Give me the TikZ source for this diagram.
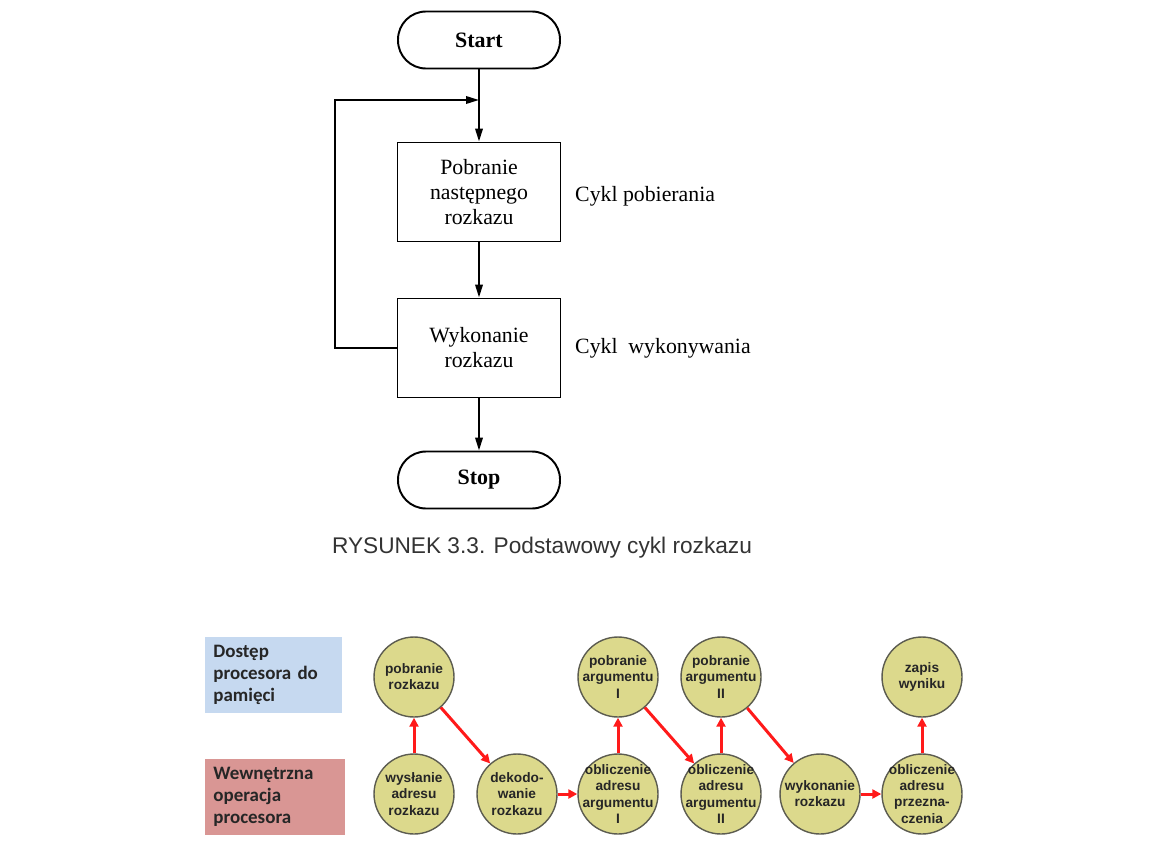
\documentclass[tikz,border=0pt]{standalone}
\usepackage{fontspec}
\setmainfont{Liberation Serif}
\newfontfamily\capfont{Liberation Sans}
\newfontfamily\legfont{Carlito}
\usetikzlibrary{arrows.meta, positioning, calc}
\definecolor{legblue}{HTML}{C6D9F0}
\definecolor{legred}{HTML}{D99694}
\definecolor{stagefill}{HTML}{DCD98C}
\definecolor{stageline}{HTML}{5C5C50}
\definecolor{flowred}{HTML}{FF1A1A}
\definecolor{inkgray}{HTML}{333333}

\begin{document}
\begin{tikzpicture}[
  x=0.02cm, y=-0.02cm,
  arr/.style={-{Triangle[length=2.6mm, width=1.5mm]}, line width=1.1pt, black},
  redarr/.style={-{Triangle[length=1.8mm, width=1.8mm]}, line width=1.7pt, flowred},
]

% =============================================
% Styles
% =============================================
\tikzset{
  termbox/.style={
    draw, line width=1.1pt, rounded corners=5.6mm,
    minimum width=32.4mm, minimum height=11.4mm,
    font=\fontsize{12.5}{14}\selectfont\bfseries,
  },
  procbox/.style={
    draw, line width=1.1pt, align=center,
    minimum width=32.6mm, minimum height=19.8mm,
    font=\fontsize{12.4}{14.2}\selectfont,
  },
  sidetext/.style={anchor=west, font=\fontsize{12.4}{14}\selectfont},
  legendbox/.style 2 args={
    fill=#1, text width=#2, minimum height=15.2mm,
    inner sep=1.6mm, align=left,
    font=\legfont\fontsize{10.8}{12.4}\selectfont\bfseries, text=black!85,
  },
  stage/.style={
    circle, draw=stageline, line width=0.8pt, fill=stagefill,
    minimum size=16mm, inner sep=0pt,
    label={[align=center, inner sep=0pt, text=black!85,
      font=\capfont\fontsize{7.8}{9.2}\selectfont\bfseries]center:#1},
  },
}

\useasboundingbox (0,0) rectangle (1175,848);

% =============================================
% Basic instruction cycle (flowchart)
% =============================================
\node[termbox] (start) at (479,40) {Start};
\node[procbox] (fetch) at (479,192) {Pobranie\\następnego\\rozkazu};
\node[procbox] (exec) at (479,348) {Wykonanie\\rozkazu};
\node[termbox] (stop) at (479,480) {Stop};
\coordinate (join) at (479,100);

\node[sidetext] (fetchlbl) at (569,196) {Cykl pobierania};
\node[sidetext] (execlbl) at (569,348) {Cykl\ \ wykonywania};

\draw[arr] (start) -- (fetch);
\draw[arr] (fetch) -- (exec);
\draw[arr] (exec) -- (stop);
\draw[arr] (exec.west) -- ++(-62,0) |- (join);

\node[font=\capfont\fontsize{12.9}{15}\selectfont, text=inkgray] (caption) at (542,548)
  {RYSUNEK 3.3. Podstawowy cykl rozkazu};

% =============================================
% Legend boxes
% =============================================
\node[legendbox={legblue}{24.2mm}, anchor=west] (mem) at (205,675)
  {Dostęp\\procesora do\\pamięci};
\node[legendbox={legred}{24.8mm}, anchor=west] (cpu) at (205,797)
  {Wewnętrzna\\operacja\\procesora};

% =============================================
% Instruction cycle states
% =============================================
\node[stage={pobranie\\rozkazu}] (ifetch) at (414,677) {};
\node[stage={pobranie\\argumentu\\I}] (ofetch1) at (618,677) {};
\node[stage={pobranie\\argumentu\\II}] (ofetch2) at (721,677) {};
\node[stage={zapis\\wyniku}] (ostore) at (922,677) {};

\node[stage={wysłanie\\adresu\\rozkazu}] (iac) at (414,794) {};
\node[stage={dekodo-\\wanie\\rozkazu}] (iod) at (517,794) {};
\node[stage={obliczenie\\adresu\\argumentu\\I}] (oac1) at (618,794) {};
\node[stage={obliczenie\\adresu\\argumentu\\II}] (oac2) at (721,794) {};
\node[stage={wykonanie\\rozkazu}] (doop) at (820,794) {};
\node[stage={obliczenie\\adresu\\przezna-\\czenia}] (oac3) at (922,794) {};

\draw[redarr] (iac) -- (ifetch);
\draw[redarr] (ifetch) -- (iod);
\draw[redarr] (iod) -- (oac1);
\draw[redarr] (oac1) -- (ofetch1);
\draw[redarr] (ofetch1) -- (oac2);
\draw[redarr] (oac2) -- (ofetch2);
\draw[redarr] (ofetch2) -- (doop);
\draw[redarr] (doop) -- (oac3);
\draw[redarr] (oac3) -- (ostore);

\end{tikzpicture}
\end{document}
